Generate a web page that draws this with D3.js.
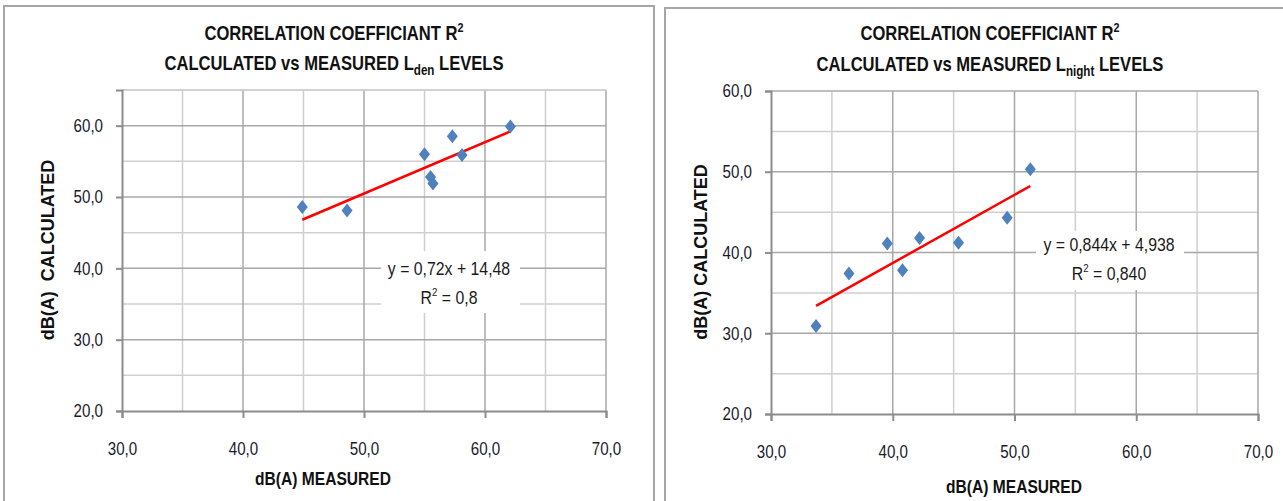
<!DOCTYPE html>
<html>
<head>
<meta charset="utf-8">
<script src="https://cdn.jsdelivr.net/npm/d3@7"></script>
<style>
  html, body { margin: 0; padding: 0; background: #fff; }
  svg { display: block; }
  text { font-family: "Liberation Sans", Arial, sans-serif; }
</style>
</head>
<body>
<svg id="chart" width="1283" height="501"></svg>
<script>
// ---------------- DATA ----------------
const xTicks = [30, 40, 50, 60, 70];
const ldenYTicks = [20, 30, 40, 50, 60];
const lnightYTicks = [20, 30, 40, 50, 60];

const ldenMeasured   = [44.9, 48.6, 55.0, 57.3, 58.1, 55.5, 55.7, 62.1];
const ldenCalculated = [48.6, 48.1, 56.0, 58.5, 55.9, 52.8, 51.9, 59.9];
const ldenTrend = [0.72, 14.48];           // slope, intercept
const ldenEquation = ["y = 0,72x + 14,48", "0,8"];

const lnightMeasured   = [33.7, 36.4, 39.55, 40.8, 42.2, 45.4, 49.4, 51.3];
const lnightCalculated = [30.9, 37.4, 41.1, 37.8, 41.8, 41.2, 44.3, 50.3];
const lnightTrend = [0.844, 4.938];
const lnightEquation = ["y = 0,844x + 4,938", "0,840"];

const titleLine1 = "CORRELATION COEFFICIANT R";
const xTitle = "dB(A) MEASURED";
const yTitles = ["dB(A)  CALCULATED", "dB(A) CALCULATED"];

// ---------------- DRAW ----------------
const svg = d3.select("#chart");
const fmt = v => d3.format(".1f")(v).replace(".", ",");

// text horizontally condensed (narrow font look)
function narrowText(parent, x, y, sx, anchor) {
  return parent.append("g").attr("transform", `translate(${x},${y}) scale(${sx},1)`)
    .append("text").attr("text-anchor", anchor || "middle");
}

function drawChart(cfg) {
  const g = svg.append("g");
  // frame
  g.append("rect").attr("x", cfg.frame[0]).attr("y", cfg.frame[1])
    .attr("width", cfg.frame[2]).attr("height", cfg.frame[3])
    .attr("fill", "#fff").attr("stroke", "#a6a6a6").attr("stroke-width", 2);

  const x = d3.scaleLinear().domain([30, 70]).range([cfg.plot[0], cfg.plot[1]]);
  const y = d3.scaleLinear().domain(cfg.yDomain).range([cfg.plot[3], cfg.plot[2]]);

  // minor grid (every 5)
  const minorX = d3.range(35, 70, 10);
  const minorY = d3.range(cfg.yDomain[0] + 5, cfg.yDomain[1] + 0.1, 10);
  g.selectAll(".mgx").data(minorX).enter().append("line")
    .attr("x1", d => x(d)).attr("x2", d => x(d))
    .attr("y1", y(cfg.yDomain[0])).attr("y2", y(cfg.yDomain[1]))
    .attr("stroke", "#cfcfcf").attr("stroke-width", 1.5);
  g.selectAll(".mgy").data(minorY).enter().append("line")
    .attr("x1", x(30)).attr("x2", x(70))
    .attr("y1", d => y(d)).attr("y2", d => y(d))
    .attr("stroke", "#cfcfcf").attr("stroke-width", 1.5);
  // major grid
  g.selectAll(".gx").data(cfg.xTicks.slice(1)).enter().append("line")
    .attr("x1", d => x(d)).attr("x2", d => x(d))
    .attr("y1", y(cfg.yDomain[0])).attr("y2", y(cfg.yDomain[1]))
    .attr("stroke", "#a8a8a8").attr("stroke-width", 1.5);
  g.selectAll(".gy").data(cfg.yTicks.slice(1)).enter().append("line")
    .attr("x1", x(30)).attr("x2", x(70))
    .attr("y1", d => y(d)).attr("y2", d => y(d))
    .attr("stroke", "#a8a8a8").attr("stroke-width", 1.5);
  if (cfg.yDomain[1] % 10 !== 0) {
    g.append("line").attr("x1", x(30)).attr("x2", x(70))
      .attr("y1", y(cfg.yDomain[1])).attr("y2", y(cfg.yDomain[1]))
      .attr("stroke", "#cfcfcf").attr("stroke-width", 1.5);
  }

  // axes
  const xAxis = d3.axisBottom(x).tickValues(cfg.xTicks).tickSize(7).tickFormat(fmt).tickPadding(24);
  const yAxis = d3.axisLeft(y).tickValues(cfg.yTicks).tickSize(6).tickFormat(fmt).tickPadding(13);
  const xa = g.append("g").attr("transform", `translate(0,${y(cfg.yDomain[0])})`).call(xAxis);
  const ya = g.append("g").attr("transform", `translate(${x(30)},0)`).call(yAxis);
  [xa, ya].forEach(a => {
    a.select(".domain").attr("stroke", "#8c8c8c").attr("stroke-width", 2);
    a.selectAll(".tick line").attr("stroke", "#8c8c8c").attr("stroke-width", 2);
    a.selectAll(".tick text").attr("font-family", "Liberation Sans, Arial, sans-serif")
      .attr("font-size", 18).attr("fill", "#1a1a2e")
      .each(function() {
        const len = this.getComputedTextLength();
        d3.select(this).attr("textLength", len * 0.84).attr("lengthAdjust", "spacingAndGlyphs");
      });
  });

  // equation box
  const eq = g.append("g");
  eq.append("rect").attr("x", cfg.eqBox[0]).attr("y", cfg.eqBox[1])
    .attr("width", cfg.eqBox[2]).attr("height", cfg.eqBox[3]).attr("fill", "#fff");
  narrowText(eq, cfg.eqPos[0], cfg.eqPos[1], 0.88)
    .attr("font-size", 18).attr("fill", "#1a1a1a").text(cfg.eq[0]);
  const r2 = narrowText(eq, cfg.eqPos[0], cfg.eqPos[1] + 29, 0.88)
    .attr("font-size", 18).attr("fill", "#1a1a1a");
  r2.append("tspan").text("R");
  r2.append("tspan").attr("font-size", 11).attr("dy", -8).text("2");
  r2.append("tspan").attr("dy", 8).text(" = " + cfg.eq[1]);

  // trendline
  const [m, b] = cfg.trend;
  const xExt = d3.extent(cfg.mx);
  g.append("line")
    .attr("x1", x(xExt[0])).attr("y1", y(m * xExt[0] + b))
    .attr("x2", x(xExt[1])).attr("y2", y(m * xExt[1] + b))
    .attr("stroke", "#ff0000").attr("stroke-width", 2.5);

  // points
  const pts = cfg.mx.map((v, i) => [v, cfg.cy[i]]);
  g.selectAll(".pt").data(pts).enter().append("path")
    .attr("transform", d => `translate(${x(d[0])},${y(d[1])})`)
    .attr("d", "M0,-7L5.5,0L0,7L-5.5,0Z")
    .attr("fill", "#4f81bd");

  // titles
  const t1 = narrowText(g, cfg.titleX, cfg.titleY[0], 0.83)
    .attr("font-weight", "bold").attr("font-size", 20).attr("fill", "#111");
  t1.append("tspan").text(titleLine1);
  t1.append("tspan").attr("font-size", 13).attr("dy", -8).text("2");
  const t2 = narrowText(g, cfg.titleX, cfg.titleY[1], 0.83)
    .attr("font-weight", "bold").attr("font-size", 20).attr("fill", "#111");
  t2.append("tspan").text("CALCULATED vs MEASURED L");
  t2.append("tspan").attr("font-size", 14).attr("dy", 5).text(cfg.sub);
  t2.append("tspan").attr("dy", -5).text(" LEVELS");

  // axis titles
  narrowText(g, cfg.xTitlePos[0], cfg.xTitlePos[1], 0.82)
    .attr("font-weight", "bold").attr("font-size", 19).attr("fill", "#111")
    .text(xTitle);
  g.append("text")
    .attr("transform", `translate(${cfg.yTitlePos[0]},${cfg.yTitlePos[1]}) rotate(-90)`)
    .attr("text-anchor", "middle").style("white-space", "pre")
    .attr("font-weight", "bold").attr("font-size", 18).attr("fill", "#111")
    .text(cfg.yTitle);
}

drawChart({
  frame: [4, 6, 650, 510],
  plot: [122, 606, 90, 411],
  yDomain: [20, 65],
  xTicks: xTicks, yTicks: ldenYTicks,
  mx: ldenMeasured, cy: ldenCalculated, trend: ldenTrend, eq: ldenEquation,
  eqBox: [381, 251, 139, 62], eqPos: [449, 275],
  titleX: 334, titleY: [40, 70], sub: "den",
  xTitlePos: [323, 485], yTitlePos: [54, 250], yTitle: yTitles[0]
});

drawChart({
  frame: [665, 8, 640, 510],
  plot: [771, 1258, 91, 414],
  yDomain: [20, 60],
  xTicks: xTicks, yTicks: lnightYTicks,
  mx: lnightMeasured, cy: lnightCalculated, trend: lnightTrend, eq: lnightEquation,
  eqBox: [1036, 231, 148, 59], eqPos: [1109, 251],
  titleX: 990, titleY: [40, 71], sub: "night",
  xTitlePos: [1014, 493], yTitlePos: [707, 252], yTitle: yTitles[1]
});
</script>
</body>
</html>
